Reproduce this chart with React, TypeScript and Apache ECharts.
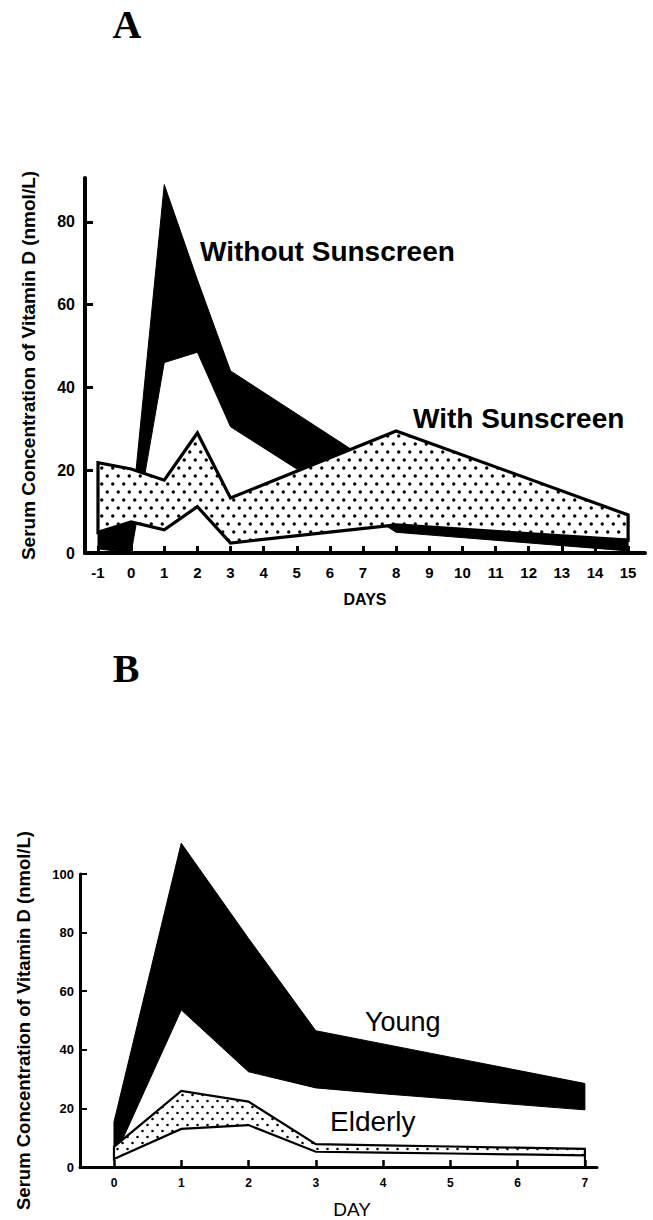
import React, { useEffect, useRef } from 'react';
import * as echarts from 'echarts';

// ---------- Panel A data ----------
const daysA = [-1, 0, 1, 2, 3, 8, 15];
const withoutLow = [1, 0, 46, 48.5, 30.5, 5, 0.5];
const withoutHigh = [5, 8, 89, 66, 44, 18, 3.5];
const withLow = [5, 7.5, 5.6, 11.2, 2.4, 6.8, 3.1];
const withHigh = [21.8, 20.3, 17.6, 29, 13.3, 29.5, 9.2];
const tickXA = [-1, 0, 1, 2, 3, 4, 5, 6, 7, 8, 9, 10, 11, 12, 13, 14, 15];
const tickYA = [0, 20, 40, 60, 80];

// ---------- Panel B data ----------
const daysB = [0, 1, 2, 3, 4, 5, 6, 7];
const youngLow = [3, 53.6, 32.5, 27, 25, 23.2, 21.3, 19.5];
const youngHigh = [15.4, 110.5, 78, 46.5, 42, 37.5, 33, 28.5];
const elderlyLow = [2.7, 13, 14.3, 5.2, 4.9, 4.6, 4.3, 4];
const elderlyHigh = [6.9, 26, 22.3, 7.8, 7.4, 7, 6.6, 6.2];
const tickXB = [0, 1, 2, 3, 4, 5, 6, 7];
const tickYB = [0, 20, 40, 60, 80, 100];

const SANS = '"Liberation Sans", Arial, Helvetica, sans-serif';
const SERIF = '"Liberation Serif", "Times New Roman", serif';

function makeDots(w: number, h: number, r: number, pts: number[][]) {
  const c = document.createElement('canvas');
  c.width = w;
  c.height = h;
  const ctx = c.getContext('2d')!;
  ctx.fillStyle = '#ffffff';
  ctx.fillRect(0, 0, w, h);
  ctx.fillStyle = '#000000';
  pts.forEach(([x, y]) => {
    ctx.beginPath();
    ctx.arc(x, y, r, 0, Math.PI * 2);
    ctx.fill();
  });
  return { image: c, repeat: 'repeat', imageWidth: w, imageHeight: h } as any;
}

function band(x: number[], lo: number[], hi: number[]) {
  return x.map((d, i) => [d, lo[i], hi[i]]);
}

function bandRender(fill: any, stroke: string, lw: number) {
  return (params: any, api: any) => {
    if (params.dataIndexInside !== 0) return null;
    const n = params.dataInsideLength;
    const bottom: number[][] = [];
    const top: number[][] = [];
    for (let i = 0; i < n; i++) {
      const xv = api.value(0, i);
      bottom.push(api.coord([xv, api.value(1, i)]));
      top.push(api.coord([xv, api.value(2, i)]));
    }
    return {
      type: 'polygon',
      shape: { points: bottom.concat(top.reverse()) },
      style: { fill, stroke, lineWidth: lw, lineJoin: 'miter' },
    };
  };
}

function buildOption() {
  const dotsA = makeDots(11, 16, 1.7, [[2.75, 4], [8.25, 12]]);
  const dotsB = makeDots(10, 12, 1.3, [[2.5, 3], [7.5, 9]]);

  const axisLabelBase = { color: '#000', fontFamily: SANS, fontWeight: 'bold' as const };

  return {
    animation: false,
    backgroundColor: '#ffffff',
    grid: [
      { left: 85, top: 178, width: 560, height: 375 },
      { left: 80, top: 874, width: 517, height: 293 },
    ],
    xAxis: [
      {
        gridIndex: 0,
        type: 'value',
        min: -1.392,
        max: 15.51,
        axisLine: { onZero: false, lineStyle: { color: '#000', width: 4 } },
        axisTick: { inside: true, length: 7, lineStyle: { color: '#000', width: 3 }, customValues: tickXA },
        axisLabel: { ...axisLabelBase, fontSize: 15, margin: 12, customValues: tickXA },
        splitLine: { show: false },
        name: 'DAYS',
        nameLocation: 'middle',
        nameGap: 38,
        nameTextStyle: { color: '#000', fontFamily: SANS, fontWeight: 'bold', fontSize: 16 },
      },
      {
        gridIndex: 1,
        type: 'value',
        min: -0.505,
        max: 7.18,
        axisLine: { onZero: false, lineStyle: { color: '#000', width: 3 } },
        axisTick: { inside: true, length: 7, lineStyle: { color: '#000', width: 2.5 }, customValues: tickXB },
        axisLabel: { ...axisLabelBase, fontSize: 12, margin: 10, customValues: tickXB },
        splitLine: { show: false },
        name: 'DAY',
        nameLocation: 'middle',
        nameGap: 33,
        nameTextStyle: { color: '#000', fontFamily: SANS, fontSize: 19, padding: [0, 0, 0, 27] },
      },
    ],
    yAxis: [
      {
        gridIndex: 0,
        type: 'value',
        min: 0,
        max: 90.6,
        axisLine: { onZero: false, lineStyle: { color: '#000', width: 4 } },
        axisTick: { inside: true, length: 8, lineStyle: { color: '#000', width: 3 }, customValues: tickYA },
        axisLabel: { ...axisLabelBase, fontSize: 16, margin: 10, customValues: tickYA },
        splitLine: { show: false },
        name: 'Serum Concentration of Vitamin D (nmol/L)',
        nameLocation: 'middle',
        nameRotate: 90,
        nameGap: 47,
        nameTextStyle: { color: '#000', fontFamily: SANS, fontWeight: 'bold', fontSize: 19 },
      },
      {
        gridIndex: 1,
        type: 'value',
        min: 0,
        max: 100,
        axisLine: { onZero: false, lineStyle: { color: '#000', width: 3 } },
        axisTick: { inside: true, length: 7, lineStyle: { color: '#000', width: 2 }, customValues: tickYB },
        axisLabel: { ...axisLabelBase, fontSize: 13, margin: 6, customValues: tickYB },
        splitLine: { show: false },
        name: 'Serum Concentration of Vitamin D (nmol/L)',
        nameLocation: 'middle',
        nameRotate: 90,
        nameGap: 47,
        nameTextStyle: { color: '#000', fontFamily: SANS, fontWeight: 'bold', fontSize: 18.5 },
      },
    ],
    series: [
      {
        name: 'Without Sunscreen',
        type: 'custom',
        xAxisIndex: 0,
        yAxisIndex: 0,
        data: band(daysA, withoutLow, withoutHigh),
        encode: { x: 0, y: [1, 2] },
        renderItem: bandRender('#000', '#000', 1),
      },
      {
        name: 'With Sunscreen',
        type: 'custom',
        xAxisIndex: 0,
        yAxisIndex: 0,
        data: band(daysA, withLow, withHigh),
        encode: { x: 0, y: [1, 2] },
        renderItem: bandRender(dotsA, '#000', 3.2),
      },
      {
        name: 'Young',
        type: 'custom',
        xAxisIndex: 1,
        yAxisIndex: 1,
        data: band(daysB, youngLow, youngHigh),
        encode: { x: 0, y: [1, 2] },
        renderItem: bandRender('#000', '#000', 1),
      },
      {
        name: 'Elderly',
        type: 'custom',
        xAxisIndex: 1,
        yAxisIndex: 1,
        data: band(daysB, elderlyLow, elderlyHigh),
        encode: { x: 0, y: [1, 2] },
        renderItem: bandRender(dotsB, '#000', 2.2),
      },
      {
        name: 'Elderly end',
        type: 'line',
        xAxisIndex: 1,
        yAxisIndex: 1,
        symbol: 'none',
        lineStyle: { color: '#000', width: 2 },
        data: [
          [daysB[daysB.length - 1], 0],
          [daysB[daysB.length - 1], elderlyLow[elderlyLow.length - 1]],
        ],
      },
    ],
    graphic: [
      {
        type: 'text', x: 127, y: 24,
        style: { text: 'A', align: 'center', verticalAlign: 'middle', fontFamily: SERIF, fontWeight: 'bold', fontSize: 40, fill: '#000' },
      },
      {
        type: 'text', x: 126, y: 668,
        style: { text: 'B', align: 'center', verticalAlign: 'middle', fontFamily: SERIF, fontWeight: 'bold', fontSize: 40, fill: '#000' },
      },
      {
        type: 'text', x: 200, y: 251,
        style: { text: 'Without Sunscreen', align: 'left', verticalAlign: 'middle', fontFamily: SANS, fontWeight: 'bold', fontSize: 28, fill: '#000' },
      },
      {
        type: 'text', x: 413, y: 418,
        style: { text: 'With Sunscreen', align: 'left', verticalAlign: 'middle', fontFamily: SANS, fontWeight: 'bold', fontSize: 28, fill: '#000' },
      },
      {
        type: 'text', x: 365, y: 1022,
        style: { text: 'Young', align: 'left', verticalAlign: 'middle', fontFamily: SANS, fontSize: 27, fill: '#000' },
      },
      {
        type: 'text', x: 330, y: 1121,
        style: { text: 'Elderly', align: 'left', verticalAlign: 'middle', fontFamily: SANS, fontSize: 28, fill: '#000' },
      },
    ],
  };
}

export default function App() {
  const ref = useRef<HTMLDivElement>(null);
  useEffect(() => {
    const chart = echarts.init(ref.current!, null, { renderer: 'svg' });
    chart.setOption(buildOption() as any);
    return () => chart.dispose();
  }, []);
  return (
    <div
      ref={ref}
      style={{ position: 'fixed', left: 0, top: 0, width: 653, height: 1220, background: '#fff' }}
    />
  );
}
